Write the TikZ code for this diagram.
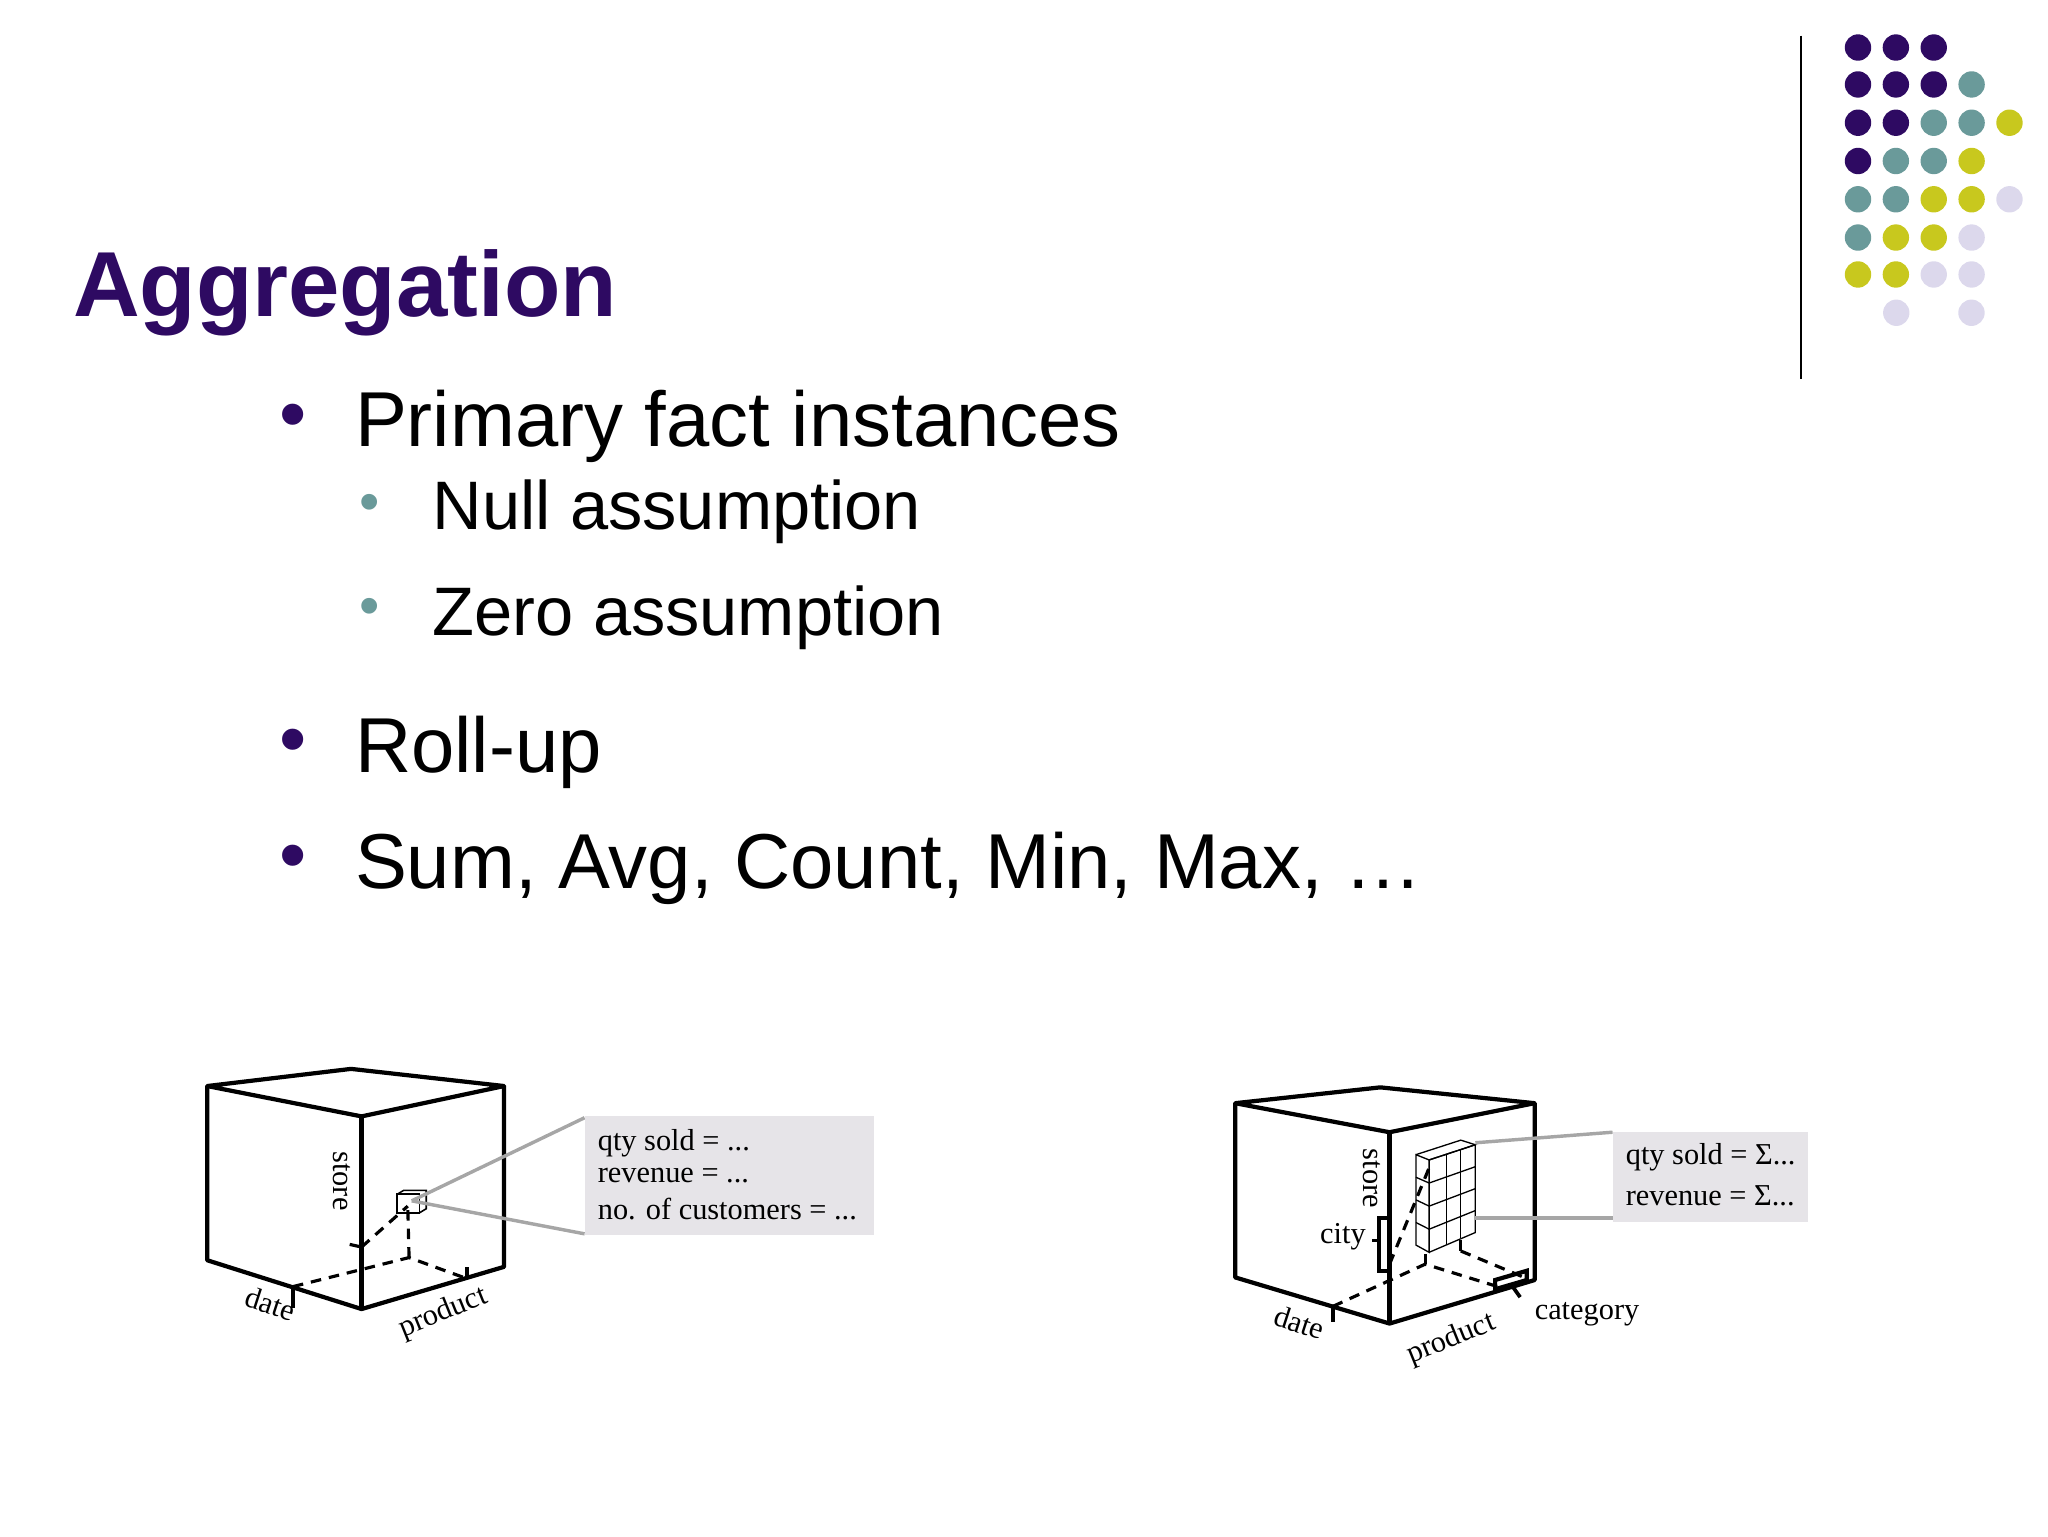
\documentclass[tikz,border=0pt]{standalone}
\usepackage{fontspec}
\setmainfont{Liberation Serif}
\newfontfamily\sans{Liberation Sans}
\usetikzlibrary{calc}
\begin{document}
\begin{tikzpicture}[x=0.5pt,y=-0.5pt,
  cube/.style={line width=1.6pt,line join=round},
  hid/.style={line width=1.2pt,dash pattern=on 4pt off 3pt},
  gl/.style={draw=gray!70,line width=1.3pt},
  box/.style={fill=boxgray,draw=none},
  lab/.style={font=\fontsize{11.5}{13}\selectfont},
  bt/.style={font=\sans\fontsize{29.5}{34}\selectfont,anchor=west},
  st/.style={font=\sans\fontsize{26}{30}\selectfont,anchor=west}]
\definecolor{pur}{RGB}{46,10,98}
\definecolor{teal}{RGB}{106,154,154}
\definecolor{yel}{RGB}{200,200,30}
\definecolor{lil}{RGB}{220,216,236}
\definecolor{boxgray}{RGB}{230,228,232}
\useasboundingbox (0,0) rectangle (1552,1164);
% decoration
\draw[line width=0.9pt] (1365,27) -- (1365,287);
\foreach \r/\list in {36/{pur,pur,pur},64/{pur,pur,pur,teal},93/{pur,pur,teal,teal,yel},122/{pur,teal,teal,yel},151/{teal,teal,yel,yel,lil},180/{teal,yel,yel,lil},208/{yel,yel,lil,lil}}{
  \foreach \c [count=\i from 0] in \list {
    \fill[\c] (1408+28.7*\i,\r) circle (10);
  }}
\fill[lil] (1437,237) circle (10);
\fill[lil] (1494,237) circle (10);
% title
\node[anchor=base west,text=pur,font=\sans\bfseries\fontsize{35}{40}\selectfont,inner sep=0] (title) at (55,240) {Aggregation};
\node[text=pur,font=\sans\fontsize{29.5}{34}\selectfont] (b1) at (222,320) {•};
\node[bt] (t1) at (262,323) {Primary fact instances};
\node[text=teal,font=\sans\fontsize{22}{26}\selectfont] (b2) at (280,385) {•};
\node[st] (t2) at (321,388) {Null assumption};
\node[text=teal,font=\sans\fontsize{22}{26}\selectfont] (b3) at (280,464) {•};
\node[st] (t3) at (321,468) {Zero assumption};
\node[text=pur,font=\sans\fontsize{29.5}{34}\selectfont] (b4) at (222,566) {•};
\node[bt] (t4) at (262,570) {Roll-up};
\node[text=pur,font=\sans\fontsize{29.5}{34}\selectfont] (b5) at (222,654) {•};
\node[bt] (t5) at (262,658) {Sum, Avg, Count, Min, Max, …};
% left cube
\coordinate (lb) at (266,810); \coordinate (ll) at (157,823); \coordinate (lr) at (382,823); \coordinate (lf) at (274,846);
\coordinate (llb) at (157,955); \coordinate (lfb) at (274,992); \coordinate (lrb) at (382,960);
\draw[cube] (ll) -- (lb) -- (lr) -- (lf) -- cycle;
\draw[cube] (ll) -- (llb) -- (lfb) -- (lrb) -- (lr);
\draw[cube] (lf) -- (lfb);
\coordinate (dt) at (222,975); \coordinate (pt) at (354,969); \coordinate (stt) at (274,945); \coordinate (hc) at (310,953); \coordinate (sc) at (309,914);
\draw[line width=1.6pt] (dt) -- ++(0,16);
\draw[line width=1.6pt] (pt) -- ++(0,-9);
\draw[line width=1.2pt] (stt) -- ++(-9,-2);
\draw[hid] (dt) -- (hc) -- (pt);
\draw[hid] (hc) -- (sc);
\draw[hid] (stt) -- (sc);
\draw[line width=0.6pt] (301,905) rectangle (318,919);
\draw[line width=0.6pt] (301,905) -- (306,902) -- (323,902) -- (323,916) -- (318,919);
\draw[gl] (312,910) -- (443,847);
\draw[gl] (312,910) -- (443,935);
\fill[box] (443,846) rectangle (662,936);
\node[lab,anchor=west] (q1) at (446,866) {qty sold = ...};
\node[lab,anchor=west] (q2) at (446,891) {revenue = ...};
\node[lab,anchor=west] (q3) at (446,916) {no. of customers = ...};
\node[lab,rotate=-90] (ls) at (259,895) {store};
\node[lab,rotate=-18] (ld) at (205,988) {date};
\node[lab,rotate=22] (lp) at (336,995) {product};
% right cube
\coordinate (rb) at (1046,824); \coordinate (rl) at (936,836); \coordinate (rr) at (1163,836); \coordinate (rf) at (1053,858);
\coordinate (rlb) at (936,968); \coordinate (rfb) at (1053,1003); \coordinate (rrb) at (1163,970);
\draw[cube] (rl) -- (rb) -- (rr) -- (rf) -- cycle;
\draw[cube] (rl) -- (rlb) -- (rfb) -- (rrb) -- (rr);
\draw[cube] (rf) -- (rfb);
\draw[line width=1.4pt] (1045,923) rectangle (1053,963);
\draw[line width=1.4pt] (1045,940) -- (1040,940);
\node[lab,anchor=east] (city) at (1042,937) {city};
\node[lab,rotate=-90] (rs) at (1040,893) {store};
\coordinate (rdt) at (1010,990); \coordinate (rhc) at (1080,958); \coordinate (rhc2) at (1107,948); \coordinate (rct) at (1150,972);
\draw[line width=1.6pt] (rdt) -- ++(0,12);
\draw[hid] (rdt) -- (rhc) -- (1135,975);
\draw[hid] (rhc2) -- (1155,968);
\draw[hid] (rhc) -- (1080,945);
\draw[hid] (rhc2) -- (1107,935);
\draw[hid] (1053,958) -- (1083,885);
\draw[line width=1.6pt] (1133,977) -- (1133,970) -- (1157,963) -- (1157,970) -- cycle;
\draw[line width=1.4pt] (1147,976) -- (1152,983);
\node[lab,anchor=west] (cat) at (1156,996) {category};
\node[lab,rotate=-18] (rd) at (985,1002) {date};
\node[lab,rotate=22] (rp) at (1100,1015) {product};
% grid block
\begin{scope}[line width=0.5pt]
\draw (1073,875) -- (1083,879) -- (1083,949) -- (1073,943.5) -- cycle;
\draw (1073,875) -- (1107,864) -- (1118,867.5) -- (1083,879);
\draw (1083,879) -- (1118,867.5) -- (1118,934) -- (1083,949);
\draw (1096,875) -- (1096,943.5);
\draw (1107,871.5) -- (1107,938.5);
\foreach \t in {0.25,0.5,0.75}{
  \draw ($(1073,875)!\t!(1073,943.5)$) -- ($(1083,879)!\t!(1083,949)$) -- ($(1118,867.5)!\t!(1118,934)$);
}
\end{scope}
\draw[gl] (1118,866) -- (1222,858);
\draw[gl] (1118,923) -- (1222,923);
\fill[box] (1222,858) rectangle (1370,926);
\node[lab,anchor=west] (r1) at (1225,877) {qty sold = Σ...};
\node[lab,anchor=west] (r2) at (1225,906) {revenue = Σ...};
\end{tikzpicture}
\end{document}
